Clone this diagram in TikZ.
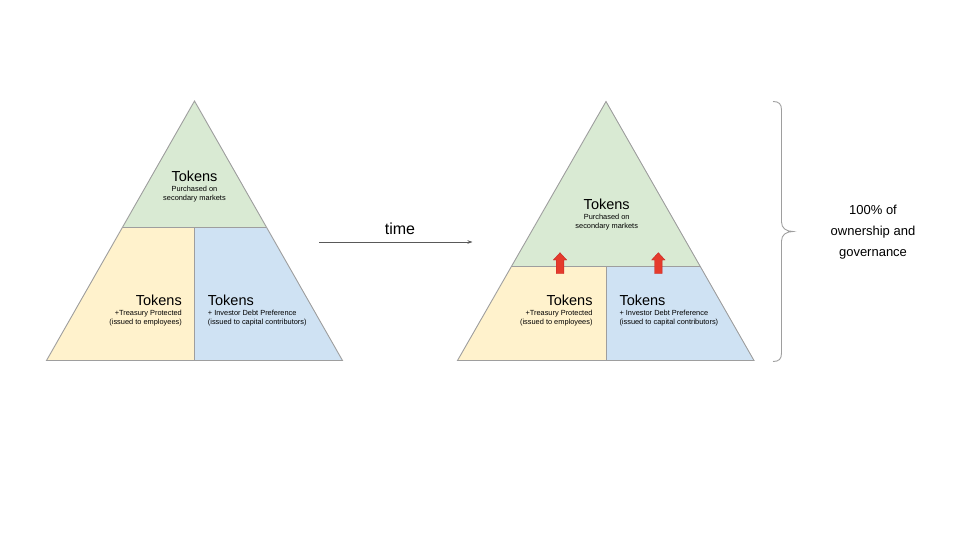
\documentclass[tikz,border=0pt]{standalone}
\usepackage{fontspec}
\setmainfont{Liberation Sans}
\usetikzlibrary{arrows.meta}
\definecolor{gfill}{HTML}{D9EAD3}
\definecolor{yfill}{HTML}{FFF2CC}
\definecolor{bfill}{HTML}{CFE2F3}
\definecolor{edge}{HTML}{9E9E9E}
\definecolor{redarrow}{HTML}{E53B2C}
\definecolor{rededge}{HTML}{C62828}
\definecolor{timegray}{HTML}{595959}
\tikzset{
  region/.style={draw=edge, line width=0.9pt, line join=miter},
  big/.style={font=\fontsize{14.5}{17}\selectfont, inner sep=0pt},
  small/.style={font=\fontsize{7.4}{9}\selectfont, inner sep=0pt},
  uparrow/.style={fill=redarrow, draw=rededge, line width=0.4pt},
  bracestyle/.style={draw=edge, line width=0.9pt},
}
\begin{document}
\begin{tikzpicture}[x=1pt,y=-1pt]
\useasboundingbox (0,0) rectangle (960,540);
% ---------- left pyramid ----------
\coordinate (LA) at (194.5,101);
\coordinate (LBL) at (46.5,360.5);
\coordinate (LBR) at (342.5,360.5);
\coordinate (LSL) at (122.6,227);
\coordinate (LSR) at (266.4,227);
\coordinate (LSM) at (194.5,227);
\coordinate (LBM) at (194.5,360.5);
\fill[yfill] (LSL) -- (LSM) -- (LBM) -- (LBL) -- cycle;
\fill[bfill] (LSM) -- (LSR) -- (LBR) -- (LBM) -- cycle;
\fill[gfill] (LA) -- (LSR) -- (LSL) -- cycle;
\draw[region] (LA) -- (LBR) -- (LBL) -- cycle;
\draw[region] (LSL) -- (LSR);
\draw[region] (LSM) -- (LBM);
\node[big] (lt1) at (194.5,176.7) {Tokens};
\node[small, align=center] (lt2) at (194.5,193.6) {Purchased on\\secondary markets};
\node[big, anchor=east] (ll1) at (182,300) {Tokens};
\node[small, align=right, anchor=east] (ll2) at (182,318.5) {+Treasury Protected\\(issued to employees)};
\node[big, anchor=west] (lr1) at (207.7,300) {Tokens};
\node[small, align=left, anchor=west] (lr2) at (207.7,318.5) {+ Investor Debt Preference\\(issued to capital contributors)};
% ---------- time arrow ----------
\coordinate (ts) at (319,242);
\coordinate (te) at (472.5,242);
\draw[timegray, line width=0.8pt, -{Stealth[length=5pt,width=3.5pt]}] (ts) -- (te);
\node[font=\fontsize{16}{19}\selectfont, inner sep=0pt] (time) at (400,229) {time};
% ---------- right pyramid ----------
\coordinate (RA) at (606,101.5);
\coordinate (RBL) at (457.5,360.5);
\coordinate (RBR) at (754,360.5);
\coordinate (RSL) at (511.6,266.5);
\coordinate (RSR) at (700.4,266.5);
\coordinate (RSM) at (606,266.5);
\coordinate (RBM) at (606,360.5);
\fill[yfill] (RSL) -- (RSM) -- (RBM) -- (RBL) -- cycle;
\fill[bfill] (RSM) -- (RSR) -- (RBR) -- (RBM) -- cycle;
\fill[gfill] (RA) -- (RSR) -- (RSL) -- cycle;
\draw[region] (RA) -- (RBR) -- (RBL) -- cycle;
\draw[region] (RSL) -- (RSR);
\draw[region] (RSM) -- (RBM);
\node[big] (rt1) at (606.7,204) {Tokens};
\node[small, align=center] (rt2) at (606.7,221.6) {Purchased on\\secondary markets};
\node[big, anchor=east] (rl1) at (592.7,300) {Tokens};
\node[small, align=right, anchor=east] (rl2) at (592.7,318.5) {+Treasury Protected\\(issued to employees)};
\node[big, anchor=west] (rr1) at (619.3,300) {Tokens};
\node[small, align=left, anchor=west] (rr2) at (619.3,318.5) {+ Investor Debt Preference\\(issued to capital contributors)};
% ---------- red up arrows ----------
\foreach \cx in {560,658.3} {
  \draw[uparrow] (\cx,252.7) -- (\cx+6.7,260) -- (\cx+3.8,260) -- (\cx+3.8,273.5)
    -- (\cx-3.8,273.5) -- (\cx-3.8,260) -- (\cx-6.7,260) -- cycle;
}
% ---------- brace ----------
\coordinate (bt) at (773,101.5);
\coordinate (bm) at (793,231.5);
\coordinate (bb) at (773,361.5);
\draw[bracestyle] (bt) .. controls (779,101.5) and (781.5,104) .. (781.5,110)
  -- (781.5,222) .. controls (781.5,228) and (786,231.5) .. (bm)
  .. controls (786,231.5) and (781.5,235) .. (781.5,241)
  -- (781.5,353) .. controls (781.5,359) and (779,361.5) .. (bb);
\node[font=\fontsize{13}{21}\selectfont, align=center, inner sep=0pt] (own) at (873,232) {100\% of\\ownership and\\governance};
\end{tikzpicture}
\end{document}
